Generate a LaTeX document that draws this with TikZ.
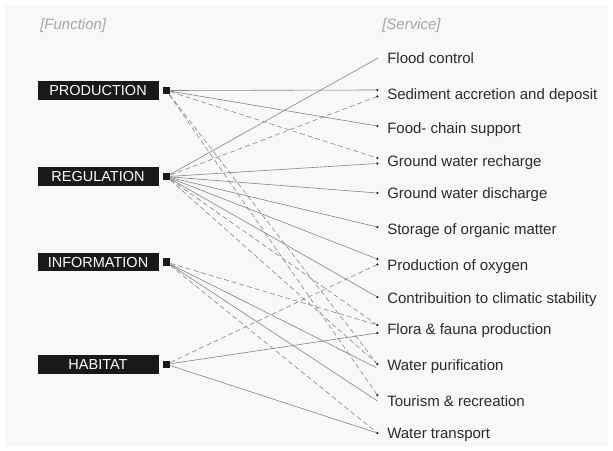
\documentclass[tikz,border=0pt]{standalone}
\usepackage{fontspec}
\setmainfont{Liberation Sans}
\usetikzlibrary{positioning}
\definecolor{pagegray}{HTML}{F8F8F8}
\definecolor{linkgray}{HTML}{858585}
\definecolor{textgray}{HTML}{2B2B2B}
\definecolor{headgray}{HTML}{A6A6A6}

\begin{document}
\begin{tikzpicture}[x=1pt, y=-1pt, semithick,
                    func/.style ={rectangle, fill=black!90, text=white, minimum width=121pt, minimum height=18.5pt, inner sep=0pt, font=\fontsize{14.5}{16}\selectfont},
                    knot/.style ={rectangle, fill=black!90, minimum size=7.5pt, inner sep=0pt},
                    serv/.style ={anchor=base west, inner sep=0pt, text=textgray, font=\fontsize{15}{17}\selectfont},
                    head/.style ={anchor=base west, inner sep=0pt, text=headgray, font=\fontsize{15}{17}\selectfont\itshape},
                    dot/.style ={circle, fill=black!85, minimum size=2.6pt, inner sep=0pt},
                    link/.style ={draw=linkgray, line width=0.6pt},
                    weak/.style ={link, dash pattern=on 5pt off 3pt}]

\useasboundingbox (0,0) rectangle (613,450);
\fill[pagegray] (5,5) rectangle (608,447);

% headings
\node[head] (fhead) at (40,29) {[Function]};
\node[head] (shead) at (382,29) {[Service]};

% function nodes
\node[func] (prod) at (98,90.5) {PRODUCTION};
\node[func] (reg) [below=67pt of prod] {REGULATION};
\node[func] (info) [below=66.5pt of reg] {INFORMATION};
\node[func] (hab) [below=83pt of info] {HABITAT};

\node[knot] (p) [right=3.5pt of prod] {};
\node[knot] (r) [right=3.5pt of reg] {};
\node[knot] (i) [right=3.5pt of info] {};
\node[knot] (h) [right=3.5pt of hab] {};

% service nodes
\node[serv] (flood) at (387,63) {Flood control};
\node[serv] (sed) at (387,99) {Sediment accretion and deposit};
\node[serv] (food) at (387,133) {Food- chain support};
\node[serv] (rech) at (387,166) {Ground water recharge};
\node[serv] (disc) at (387,198) {Ground water discharge};
\node[serv] (stor) at (387,234) {Storage of organic matter};
\node[serv] (oxy) at (387,270) {Production of oxygen};
\node[serv] (clim) at (387,303) {Contribuition to climatic stability};
\node[serv] (flora) at (387,334) {Flora \& fauna production};
\node[serv] (purif) at (387,370) {Water purification};
\node[serv] (tour) at (387,406) {Tourism \& recreation};
\node[serv] (trans) at (387,438) {Water transport};

% service dots
\coordinate (flood0) at (378,58);
\node[dot] (sed1) at (377.3,90) {};
\node[dot] (sed2) at (377.3,96.5) {};
\node[dot] (food1) at (377.3,126) {};
\node[dot] (rech1) at (377.3,158) {};
\node[dot] (rech2) at (377.3,163.5) {};
\node[dot] (disc1) at (377.3,193) {};
\node[dot] (stor1) at (377.3,227) {};
\node[dot] (oxy1) at (377.3,259) {};
\node[dot] (oxy2) at (377.3,264.5) {};
\node[dot] (clim1) at (377.3,297) {};
\node[dot] (flora1) at (377.3,325) {};
\node[dot] (flora2) at (377.3,333) {};
\node[dot] (purif1) at (377.3,364) {};
\coordinate (purif0) at (376,367.5);
\node[dot] (tour1) at (377.3,395) {};
\coordinate (tour0) at (377.5,401);
\node[dot] (trans1) at (377.3,433) {};

% production edges
\path (p) edge [link] (sed1);
\path (p) edge [link] (food1);
\path (p) edge [weak] (rech1);
\path (p) edge [weak] (purif1);
\path (p) edge [weak] (tour1);

% regulation edges
\path (r) edge [link] (flood0);
\path (r) edge [weak] (sed2);
\path (r) edge [link] (rech2);
\path (r) edge [link] (disc1);
\path (r) edge [link] (stor1);
\path (r) edge [link] (oxy1);
\path (r) edge [link] (clim1);
\path (r) edge [weak] (flora1);
\path (r) edge [weak] (purif1);

% information edges
\path (i) edge [weak] (flora1);
\path (i) edge [link] (purif0);
\path (i) edge [link] (tour0);
\path (i) edge [weak] (trans1);

% habitat edges
\path (h) edge [weak] (oxy2);
\path (h) edge [link] (flora2);
\path (h) edge [link] (trans1);

\end{tikzpicture}
\end{document}
